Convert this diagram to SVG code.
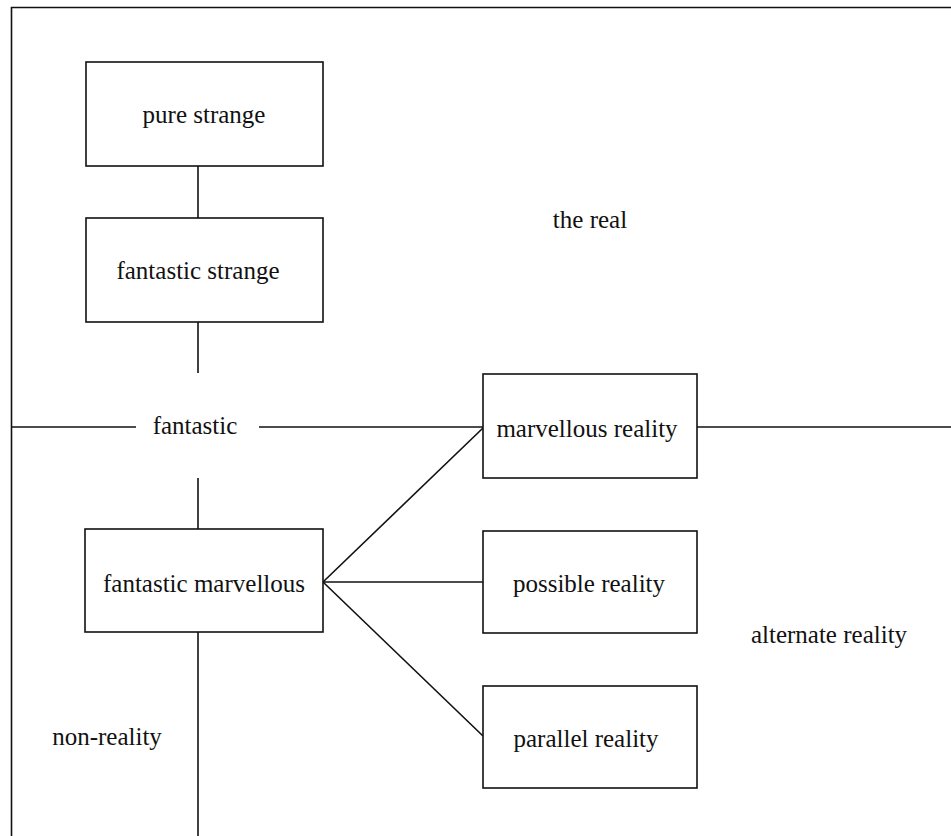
<svg xmlns="http://www.w3.org/2000/svg" width="951" height="836" viewBox="0 0 951 836">
<style>
.box{fill:#fff;stroke:#111;stroke-width:1.6}
.ln{fill:none;stroke:#111;stroke-width:1.6}
text{font-family:"Liberation Serif","Times New Roman",serif;font-size:25px;fill:#111;text-anchor:middle}
</style>
<rect width="951" height="836" fill="#fff"/>
<g id="frame">
<path class="ln" d="M11.5,836 V7.5 H951"/>
</g>
<g id="connectors">
<path class="ln" d="M198,166 V218"/>
<path class="ln" d="M198,322 V373"/>
<path class="ln" d="M198,478 V529"/>
<path class="ln" d="M198,632 V836"/>
<path class="ln" d="M11.5,427 H136"/>
<path class="ln" d="M259,427 H483"/>
<path class="ln" d="M697,427 H951"/>
<path class="ln" d="M323,582 L483,428"/>
<path class="ln" d="M323,582 H483"/>
<path class="ln" d="M323,582 L483,736"/>
</g>
<g id="region-labels">
<text x="590" y="228">the real</text>
<text x="195" y="434">fantastic</text>
<text x="829" y="643">alternate reality</text>
<text x="107" y="745">non-reality</text>
</g>
<g id="pure-strange">
<rect class="box" x="86" y="62" width="237" height="104"/>
<text x="204" y="123">pure strange</text>
</g>
<g id="fantastic-strange">
<rect class="box" x="86" y="218" width="237" height="104"/>
<text x="198" y="279">fantastic strange</text>
</g>
<g id="fantastic-marvellous">
<rect class="box" x="85" y="529" width="238" height="103"/>
<text x="204" y="592">fantastic marvellous</text>
</g>
<g id="marvellous-reality">
<rect class="box" x="483" y="374" width="214" height="104"/>
<text x="587" y="437">marvellous reality</text>
</g>
<g id="possible-reality">
<rect class="box" x="483" y="531" width="214" height="102"/>
<text x="589" y="592">possible reality</text>
</g>
<g id="parallel-reality">
<rect class="box" x="483" y="686" width="214" height="102"/>
<text x="586" y="747">parallel reality</text>
</g>
</svg>
